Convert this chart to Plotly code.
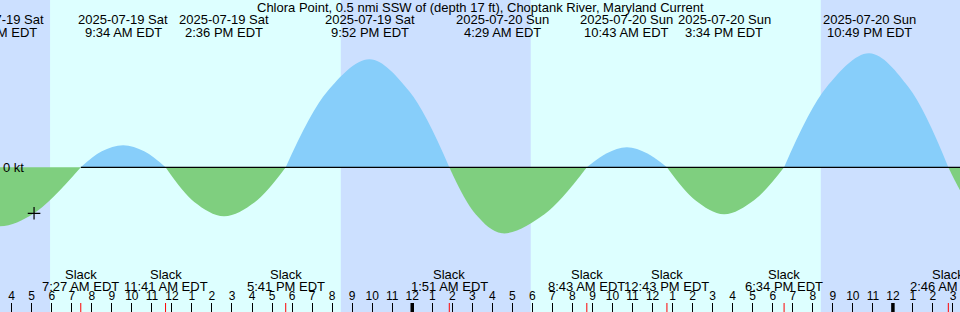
import plotly.graph_objects as go
import pandas as pd

# ---------------- data ----------------
title = "Chlora Point, 0.5 nmi SSW of (depth 17 ft), Choptank River, Maryland Current"

# curve samples (time, knots); slack points are 0
curve_time = [
    "2025-07-19 01:40", "2025-07-19 03:23", "2025-07-19 05:07", "2025-07-19 07:27",
    "2025-07-19 08:30", "2025-07-19 09:34", "2025-07-19 10:37", "2025-07-19 11:41",
    "2025-07-19 13:08", "2025-07-19 14:36", "2025-07-19 16:08", "2025-07-19 17:41",
    "2025-07-19 19:46", "2025-07-19 21:52", "2025-07-19 23:51", "2025-07-20 01:51",
    "2025-07-20 03:10", "2025-07-20 04:29", "2025-07-20 06:36", "2025-07-20 08:43",
    "2025-07-20 09:43", "2025-07-20 10:43", "2025-07-20 11:43", "2025-07-20 12:43",
    "2025-07-20 14:08", "2025-07-20 15:34", "2025-07-20 17:04", "2025-07-20 18:34",
    "2025-07-20 20:41", "2025-07-20 22:49", "2025-07-21 00:47", "2025-07-21 02:46",
    "2025-07-21 04:03", "2025-07-21 05:20",
]
curve_kt = [
    -0.45, -0.59, -0.46, 0.0,
    0.16, 0.22, 0.16, 0.0,
    -0.35, -0.49, -0.35, 0.0,
    0.76, 1.08, 0.76, 0.0,
    -0.47, -0.66, -0.47, 0.0,
    0.14, 0.20, 0.14, 0.0,
    -0.33, -0.47, -0.33, 0.0,
    0.80, 1.14, 0.80, 0.0,
    -0.44, -0.62,
]

# max flood / max ebb events (labels along the top)
event_time = ["2025-07-19 03:21", "2025-07-19 09:34", "2025-07-19 14:36", "2025-07-19 21:52",
              "2025-07-20 04:29", "2025-07-20 10:43", "2025-07-20 15:34", "2025-07-20 22:49"]
event_date = ["2025-07-19 Sat", "2025-07-19 Sat", "2025-07-19 Sat", "2025-07-19 Sat",
              "2025-07-20 Sun", "2025-07-20 Sun", "2025-07-20 Sun", "2025-07-20 Sun"]
event_clock = ["3:21 AM EDT", "9:34 AM EDT", "2:36 PM EDT", "9:52 PM EDT",
               "4:29 AM EDT", "10:43 AM EDT", "3:34 PM EDT", "10:49 PM EDT"]

# slack events (labels along the bottom)
slack_time = ["2025-07-19 07:27", "2025-07-19 11:41", "2025-07-19 17:41", "2025-07-20 01:51",
              "2025-07-20 08:43", "2025-07-20 12:43", "2025-07-20 18:34", "2025-07-21 02:46"]
slack_clock = ["7:27 AM EDT", "11:41 AM EDT", "5:41 PM EDT", "1:51 AM EDT",
               "8:43 AM EDT", "12:43 PM EDT", "6:34 PM EDT", "2:46 AM EDT"]

# night periods (sunset -> sunrise)
night_start = ["2025-07-19 00:00", "2025-07-19 20:26", "2025-07-20 20:24"]
night_end = ["2025-07-19 05:55", "2025-07-20 05:55", "2025-07-21 06:00"]

midnights = ["2025-07-20 00:00", "2025-07-21 00:00"]

now_time = ["2025-07-19 05:07"]
now_kt = [-0.46]

x_start = "2025-07-19 03:25"
x_end = "2025-07-21 03:21"

# ---------------- styles ----------------
FONT = "Liberation Sans, Arial, sans-serif"
DAY = "#DDFFFF"
NIGHT = "#CCE0FF"
FLOOD = "#87CEFA"
EBB = "#7FCF7F"
W, H = 960, 312

fig = go.Figure()

# split the curve into half-cycles at slack points
segs = []
cur_t, cur_v = [], []
for t, v in zip(curve_time, curve_kt):
    cur_t.append(t)
    cur_v.append(v)
    if v == 0.0 and len(cur_t) > 1:
        segs.append((cur_t, cur_v))
        cur_t, cur_v = [t], [v]
if len(cur_t) > 1:
    segs.append((cur_t, cur_v))

for ts, vs in segs:
    sign = max(vs, key=abs)
    fig.add_trace(go.Scatter(
        x=ts, y=vs, mode="lines", line=dict(width=0, shape="spline", smoothing=1.0),
        fill="tozeroy", fillcolor=FLOOD if sign > 0 else EBB,
        hoverinfo="skip", showlegend=False))

fig.add_trace(go.Scatter(
    x=now_time, y=now_kt, mode="markers",
    marker=dict(symbol="cross-thin", size=9, line=dict(color="black", width=1.2)),
    hoverinfo="skip", showlegend=False))

t0 = pd.Timestamp(x_start)
t1 = pd.Timestamp(x_end)


def paper_x(t):
    return (pd.Timestamp(t) - t0) / (t1 - t0)


shapes = []
for a, b in zip(night_start, night_end):
    shapes.append(dict(type="rect", xref="x", yref="paper", x0=a, x1=b, y0=0, y1=1,
                       fillcolor=NIGHT, line=dict(width=0), layer="below"))
shapes.append(dict(type="line", xref="x", yref="y", x0=slack_time[0], x1=x_end, y0=0, y1=0,
                   line=dict(color="black", width=1.3), layer="above"))
TICK = 9 / H
for t in midnights:
    shapes.append(dict(type="line", xref="x", yref="paper", x0=t, x1=t, y0=0, y1=TICK,
                       line=dict(color="black", width=3.5), layer="above"))
for t in slack_time:
    shapes.append(dict(type="line", xref="x", yref="paper", x0=t, x1=t, y0=0, y1=TICK,
                       line=dict(color="red", width=1), layer="above"))


def py(px):
    return 1 - px / H


tf = dict(size=13, family=FONT, color="black")
ann = []
ann.append(dict(text=title, x=0.5, y=py(7), xref="paper", yref="paper",
                xanchor="center", yanchor="middle", showarrow=False, font=tf))
for t, d, c in zip(event_time, event_date, event_clock):
    ann.append(dict(text=d, x=paper_x(t), y=py(19.5), xref="paper", yref="paper",
                    xanchor="center", yanchor="middle", showarrow=False, font=tf))
    ann.append(dict(text=c, x=paper_x(t), y=py(32.5), xref="paper", yref="paper",
                    xanchor="center", yanchor="middle", showarrow=False, font=tf))
for t, c in zip(slack_time, slack_clock):
    ann.append(dict(text="Slack", x=paper_x(t), y=py(274), xref="paper", yref="paper",
                    xanchor="center", yanchor="middle", showarrow=False, font=tf))
    ann.append(dict(text=c, x=paper_x(t), y=py(286), xref="paper", yref="paper",
                    xanchor="center", yanchor="middle", showarrow=False, font=tf))
ann.append(dict(text="0 kt", x=0, y=0, xref="paper", yref="y", xanchor="left",
                yanchor="middle", xshift=1, showarrow=False, font=tf))

hours = pd.date_range("2025-07-19 04:00", "2025-07-21 03:00", freq="h")
tickvals = [h.strftime("%Y-%m-%d %H:%M") for h in hours]
ticktext = [str(h.hour % 12 or 12) for h in hours]

# zero at 167.3 px from top, 100 px per knot
y_top = 167.3 / 100
y_bot = -(H - 167.3) / 100

fig.update_layout(
    width=W, height=H, margin=dict(l=0, r=0, t=0, b=0),
    paper_bgcolor=DAY, plot_bgcolor=DAY,
    shapes=shapes, annotations=ann,
    xaxis=dict(type="date", range=[x_start, x_end], tickvals=tickvals, ticktext=ticktext,
               ticks="inside", ticklen=9, tickwidth=1, tickcolor="black",
               ticklabelposition="inside", tickfont=dict(size=12, family=FONT, color="black"),
               showgrid=False, zeroline=False, showline=False, fixedrange=True),
    yaxis=dict(range=[y_bot, y_top], visible=False, showgrid=False, zeroline=False,
               fixedrange=True),
    showlegend=False,
)

fig.write_html("out.html", config={"displayModeBar": False})
